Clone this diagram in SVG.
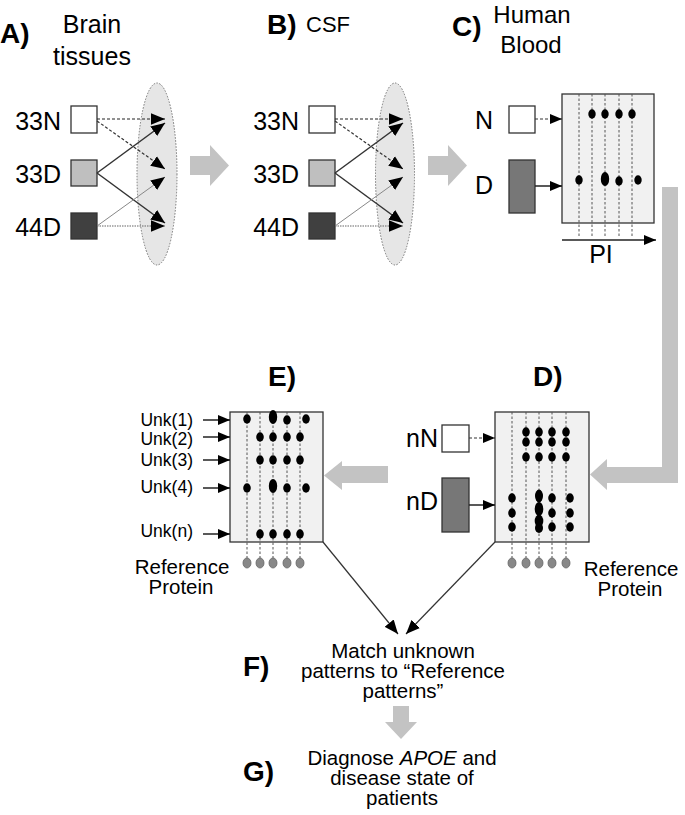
<svg xmlns="http://www.w3.org/2000/svg" width="685" height="815" viewBox="0 0 685 815">
<style>
text{font-family:"Liberation Sans",Arial,sans-serif;fill:#000}
.bl{font-size:28px;font-weight:bold}
.tt{font-size:25px}
.sm{font-size:20.5px}
.unk{font-size:17.5px}
.ell{fill:#e6e6e6;stroke:#777;stroke-width:1;stroke-dasharray:1.5,1.5}
.box{fill:#f1f1f1;stroke:#333;stroke-width:1.3}
.sq{stroke:#333;stroke-width:1.3}
.grid{stroke:#555;stroke-width:1;stroke-dasharray:2.5,2}
.dot{fill:#000}
.ref{fill:#888;stroke:#666;stroke-width:0.8}
.garrow{fill:#c3c3c3}
</style>
<defs>
<marker id="ah" viewBox="0 0 12 10" refX="12" refY="5" markerWidth="14" markerHeight="12" markerUnits="userSpaceOnUse" orient="auto">
<path d="M0,0 L12,5 L0,10 z" fill="#000"/>
</marker>
<marker id="ahs" viewBox="0 0 12 10" refX="12" refY="5" markerWidth="12" markerHeight="10" markerUnits="userSpaceOnUse" orient="auto">
<path d="M0,0 L12,5 L0,10 z" fill="#000"/>
</marker>
</defs>

<!-- Panel A -->
<g id="panelA">
<text class="bl" x="0" y="43">A)</text>
<text class="tt" text-anchor="middle"><tspan x="92" y="33">Brain</tspan><tspan x="92" y="65">tissues</tspan></text>
<ellipse class="ell" cx="157" cy="174" rx="20" ry="91"/>
<g id="A33N"><rect class="sq" x="71" y="106" width="26" height="27" fill="#fff"/><text class="tt" x="61" y="130" text-anchor="end">33N</text></g>
<g id="A33D"><rect class="sq" x="71" y="160" width="26" height="26" fill="#bfbfbf"/><text class="tt" x="61" y="183" text-anchor="end">33D</text></g>
<g id="A44D"><rect class="sq" x="71" y="213" width="26" height="26" fill="#404040"/><text class="tt" x="61" y="236" text-anchor="end">44D</text></g>
</g>

<!-- Panel B -->
<g id="panelB">
<text class="bl" x="267" y="34">B)</text>
<text x="306" y="32" font-size="22">CSF</text>
<ellipse class="ell" cx="395" cy="174" rx="19.5" ry="91"/>
<g id="B33N"><rect class="sq" x="309" y="106" width="26" height="27" fill="#fff"/><text class="tt" x="299" y="130" text-anchor="end">33N</text></g>
<g id="B33D"><rect class="sq" x="309" y="160" width="26" height="26" fill="#bfbfbf"/><text class="tt" x="299" y="183" text-anchor="end">33D</text></g>
<g id="B44D"><rect class="sq" x="309" y="213" width="26" height="26" fill="#404040"/><text class="tt" x="299" y="236" text-anchor="end">44D</text></g>
</g>

<!-- Panel C -->
<g id="panelC">
<text class="bl" x="452" y="36">C)</text>
<text font-size="24" text-anchor="middle"><tspan x="532" y="23">Human</tspan><tspan x="531" y="53">Blood</tspan></text>
<rect class="box" x="562" y="94" width="92" height="129"/>
<g class="grid">
<line x1="579" y1="94" x2="579" y2="238"/><line x1="592" y1="94" x2="592" y2="238"/><line x1="605" y1="94" x2="605" y2="238"/><line x1="619" y1="94" x2="619" y2="238"/><line x1="632" y1="94" x2="632" y2="238"/>
</g>
<g class="dot">
<ellipse cx="592" cy="114" rx="3.7" ry="4.7"/><ellipse cx="605" cy="114" rx="3.7" ry="4.7"/><ellipse cx="619" cy="114" rx="3.7" ry="4.7"/><ellipse cx="632" cy="114" rx="3.7" ry="4.7"/>
<ellipse cx="579" cy="180" rx="3.7" ry="4.7"/><ellipse cx="605" cy="179" rx="4.2" ry="7"/><ellipse cx="619" cy="181" rx="3.7" ry="4.7"/><ellipse cx="638" cy="180" rx="3.7" ry="4.7"/>
</g>
<g id="CN"><rect class="sq" x="509" y="106" width="26" height="27" fill="#fff"/><text class="tt" x="493" y="129" text-anchor="end">N</text></g>
<g id="CD"><rect class="sq" x="509" y="160" width="26" height="53" fill="#777"/><text class="tt" x="493" y="194" text-anchor="end">D</text></g>
<text class="tt" x="601" y="263" text-anchor="middle">PI</text>
</g>

<!-- Panel D -->
<g id="panelD">
<text class="bl" x="533" y="386">D)</text>
<rect class="box" x="495" y="412" width="94" height="130"/>
<g class="grid">
<line x1="512" y1="412" x2="512" y2="558"/><line x1="526" y1="412" x2="526" y2="558"/><line x1="539" y1="412" x2="539" y2="558"/><line x1="552" y1="412" x2="552" y2="558"/><line x1="566" y1="412" x2="566" y2="558"/>
</g>
<g class="dot">
<ellipse cx="526" cy="432" rx="3.8" ry="4.7"/><ellipse cx="539" cy="432" rx="3.8" ry="4.7"/><ellipse cx="552" cy="432" rx="3.8" ry="4.7"/><ellipse cx="566" cy="432" rx="3.8" ry="4.7"/>
<ellipse cx="526" cy="442" rx="3.8" ry="4.7"/><ellipse cx="539" cy="442" rx="3.8" ry="4.7"/><ellipse cx="552" cy="442" rx="3.8" ry="4.7"/><ellipse cx="566" cy="442" rx="3.8" ry="4.7"/>
<ellipse cx="526" cy="457" rx="3.8" ry="4.7"/><ellipse cx="539" cy="457" rx="3.8" ry="4.7"/><ellipse cx="552" cy="457" rx="3.8" ry="4.7"/><ellipse cx="566" cy="457" rx="3.8" ry="4.7"/>
<ellipse cx="512" cy="498" rx="3.8" ry="4.7"/><ellipse cx="512" cy="513" rx="3.8" ry="4.7"/><ellipse cx="512" cy="527" rx="3.8" ry="4.7"/>
<ellipse cx="539" cy="496" rx="4" ry="6.5"/><ellipse cx="539" cy="509" rx="4.3" ry="7"/><ellipse cx="539" cy="521" rx="4.3" ry="6.5"/><ellipse cx="539" cy="528" rx="4" ry="5"/>
<ellipse cx="552" cy="498" rx="3.8" ry="4.7"/><ellipse cx="552" cy="513" rx="3.8" ry="4.7"/><ellipse cx="552" cy="527" rx="3.8" ry="4.7"/>
<ellipse cx="570" cy="498" rx="3.8" ry="4.7"/><ellipse cx="570" cy="513" rx="3.8" ry="4.7"/><ellipse cx="570" cy="527" rx="3.8" ry="4.7"/>
</g>
<g>
<ellipse class="ref" cx="512" cy="563" rx="4" ry="5"/><ellipse class="ref" cx="526" cy="563" rx="4" ry="5"/><ellipse class="ref" cx="539" cy="563" rx="4" ry="5"/><ellipse class="ref" cx="552" cy="563" rx="4" ry="5"/><ellipse class="ref" cx="566" cy="563" rx="4" ry="5"/>
</g>
<g id="DnN"><rect class="sq" x="442" y="425" width="27" height="27" fill="#fff"/><text class="tt" x="438" y="447" text-anchor="end">nN</text></g>
<g id="DnD"><rect class="sq" x="442" y="478" width="27" height="54" fill="#777"/><text class="tt" x="438" y="510" text-anchor="end">nD</text></g>
<text class="sm" text-anchor="middle"><tspan x="631" y="576">Reference</tspan><tspan x="630" y="596">Protein</tspan></text>
</g>

<!-- Panel E -->
<g id="panelE">
<text class="bl" x="268" y="386">E)</text>
<rect class="box" x="230" y="412" width="93" height="130"/>
<g class="grid">
<line x1="247" y1="412" x2="247" y2="558"/><line x1="260" y1="412" x2="260" y2="558"/><line x1="273" y1="412" x2="273" y2="558"/><line x1="287" y1="412" x2="287" y2="558"/><line x1="300" y1="412" x2="300" y2="558"/>
</g>
<g class="dot">
<ellipse cx="247" cy="419" rx="3.8" ry="4.7"/><ellipse cx="273" cy="417" rx="4.2" ry="7"/><ellipse cx="287" cy="420" rx="3.8" ry="4.7"/><ellipse cx="306" cy="419" rx="3.8" ry="4.7"/>
<ellipse cx="260" cy="437" rx="3.8" ry="4.7"/><ellipse cx="273" cy="437" rx="3.8" ry="4.7"/><ellipse cx="287" cy="437" rx="3.8" ry="4.7"/><ellipse cx="300" cy="437" rx="3.8" ry="4.7"/>
<ellipse cx="260" cy="460" rx="3.8" ry="4.7"/><ellipse cx="273" cy="460" rx="3.8" ry="4.7"/><ellipse cx="287" cy="460" rx="3.8" ry="4.7"/><ellipse cx="300" cy="460" rx="3.8" ry="4.7"/>
<ellipse cx="247" cy="488" rx="3.8" ry="4.7"/><ellipse cx="273" cy="486" rx="4.2" ry="7"/><ellipse cx="287" cy="488" rx="3.8" ry="4.7"/><ellipse cx="306" cy="488" rx="3.8" ry="4.7"/>
<ellipse cx="260" cy="534" rx="3.8" ry="4.7"/><ellipse cx="273" cy="534" rx="3.8" ry="4.7"/><ellipse cx="287" cy="534" rx="3.8" ry="4.7"/><ellipse cx="300" cy="534" rx="3.8" ry="4.7"/>
</g>
<g>
<ellipse class="ref" cx="247" cy="563" rx="4" ry="5"/><ellipse class="ref" cx="260" cy="563" rx="4" ry="5"/><ellipse class="ref" cx="273" cy="563" rx="4" ry="5"/><ellipse class="ref" cx="287" cy="563" rx="4" ry="5"/><ellipse class="ref" cx="300" cy="563" rx="4" ry="5"/>
</g>
<text class="unk" x="193" y="426" text-anchor="end">Unk(1)</text>
<text class="unk" x="193" y="445" text-anchor="end">Unk(2)</text>
<text class="unk" x="193" y="466" text-anchor="end">Unk(3)</text>
<text class="unk" x="193" y="493" text-anchor="end">Unk(4)</text>
<text class="unk" x="193" y="537" text-anchor="end">Unk(n)</text>
<text class="sm" text-anchor="middle"><tspan x="182" y="574">Reference</tspan><tspan x="181" y="594">Protein</tspan></text>
</g>

<!-- Panel F -->
<g id="panelF">
<text class="bl" x="243" y="676">F)</text>
<text class="sm" text-anchor="middle"><tspan x="403" y="658">Match unknown</tspan><tspan x="403" y="678">patterns to “Reference</tspan><tspan x="403" y="698">patterns”</tspan></text>
</g>

<!-- Panel G -->
<g id="panelG">
<text class="bl" x="243" y="781">G)</text>
<text class="sm" text-anchor="middle"><tspan x="402" y="765">Diagnose <tspan font-style="italic">APOE</tspan> and</tspan><tspan x="402" y="785">disease state of</tspan><tspan x="402" y="805">patients</tspan></text>
</g>

<!-- Connectors -->
<g id="connectors">
<line x1="97" y1="119" x2="165" y2="119" stroke="#222" stroke-width="1.2" stroke-dasharray="3,2" marker-end="url(#ah)"/>
<line x1="97" y1="121" x2="165" y2="169" stroke="#333" stroke-width="1.2" stroke-dasharray="3,2" marker-end="url(#ah)"/>
<line x1="97" y1="173" x2="165" y2="123" stroke="#333" stroke-width="1.5" marker-end="url(#ah)"/>
<line x1="97" y1="173" x2="165" y2="223" stroke="#333" stroke-width="1.5" marker-end="url(#ah)"/>
<line x1="97" y1="226" x2="165" y2="177" stroke="#888" stroke-width="1" marker-end="url(#ah)"/>
<line x1="97" y1="226" x2="165" y2="226" stroke="#666" stroke-width="1.2" stroke-dasharray="1.5,1" marker-end="url(#ah)"/>
<line x1="335" y1="119" x2="403" y2="119" stroke="#222" stroke-width="1.2" stroke-dasharray="3,2" marker-end="url(#ah)"/>
<line x1="335" y1="121" x2="403" y2="169" stroke="#333" stroke-width="1.2" stroke-dasharray="3,2" marker-end="url(#ah)"/>
<line x1="335" y1="173" x2="403" y2="123" stroke="#333" stroke-width="1.5" marker-end="url(#ah)"/>
<line x1="335" y1="173" x2="403" y2="223" stroke="#333" stroke-width="1.5" marker-end="url(#ah)"/>
<line x1="335" y1="226" x2="403" y2="177" stroke="#888" stroke-width="1" marker-end="url(#ah)"/>
<line x1="335" y1="226" x2="403" y2="226" stroke="#666" stroke-width="1.2" stroke-dasharray="1.5,1" marker-end="url(#ah)"/>
<line x1="535" y1="119" x2="562" y2="119" stroke="#333" stroke-width="1.2" stroke-dasharray="3,2" marker-end="url(#ahs)"/>
<line x1="535" y1="186" x2="562" y2="186" stroke="#222" stroke-width="1.5" marker-end="url(#ahs)"/>
<line x1="562" y1="240" x2="656" y2="240" stroke="#222" stroke-width="1.5" marker-end="url(#ahs)"/>
<line x1="469" y1="438" x2="495" y2="438" stroke="#333" stroke-width="1.2" stroke-dasharray="3,2" marker-end="url(#ahs)"/>
<line x1="469" y1="505" x2="495" y2="505" stroke="#222" stroke-width="1.5" marker-end="url(#ahs)"/>
<line x1="203" y1="420" x2="230" y2="420" stroke="#222" stroke-width="1.5" marker-end="url(#ahs)"/>
<line x1="203" y1="437" x2="230" y2="437" stroke="#222" stroke-width="1.5" marker-end="url(#ahs)"/>
<line x1="203" y1="460" x2="230" y2="460" stroke="#222" stroke-width="1.5" marker-end="url(#ahs)"/>
<line x1="203" y1="488" x2="230" y2="488" stroke="#222" stroke-width="1.5" marker-end="url(#ahs)"/>
<line x1="203" y1="534" x2="230" y2="534" stroke="#222" stroke-width="1.5" marker-end="url(#ahs)"/>
<line x1="323" y1="542" x2="398" y2="634" stroke="#333" stroke-width="1.2" marker-end="url(#ah)"/>
<line x1="495" y1="542" x2="406" y2="634" stroke="#333" stroke-width="1.2" marker-end="url(#ah)"/>
<polygon class="garrow" points="190,156 210,156 210,145 229,165.5 210,186 210,175 190,175"/>
<polygon class="garrow" points="428,156 448,156 448,145 467,165.5 448,186 448,175 428,175"/>
<polygon class="garrow" points="662,187 678,187 678,483 607,483 607,490 590,474.5 607,459 607,467 662,467"/>
<polygon class="garrow" points="388,466 342,466 342,461 324,475.5 342,490 342,483 388,483"/>
<polygon class="garrow" points="393,706 409,706 409,722 417,722 401,739 385,722 393,722"/>
</g>
</svg>
